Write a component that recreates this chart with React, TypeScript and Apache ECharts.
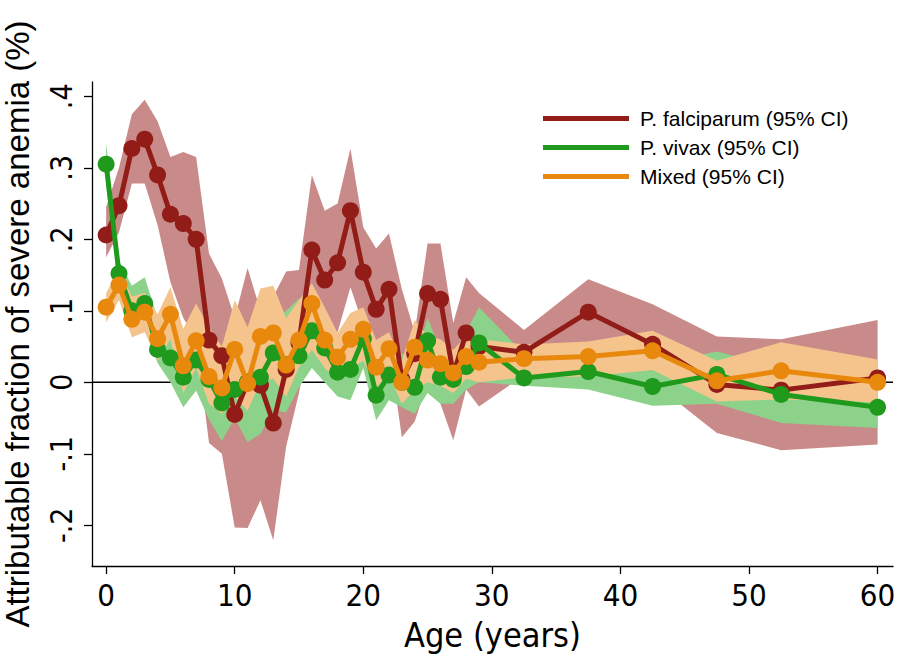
import React, { useEffect, useRef } from "react";
import * as echarts from "echarts";

const ages = [0, 1, 2, 3, 4, 5, 6, 7, 8, 9, 10, 11, 12, 13, 14, 15, 16, 17, 18, 19, 20, 21, 22, 23, 24, 25, 26, 27, 28, 29, 32.5, 37.5, 42.5, 47.5, 52.5, 60];

const falcValue = [0.206, 0.247, 0.327, 0.34, 0.29, 0.235, 0.222, 0.2, 0.059, 0.037, -0.045, 0.0, -0.004, -0.057, 0.018, 0.055, 0.185, 0.143, 0.167, 0.24, 0.154, 0.102, 0.13, 0.004, 0.04, 0.124, 0.116, 0.011, 0.069, 0.05, 0.042, 0.098, 0.053, -0.003, -0.011, 0.006];
const falcUpper = [0.245, 0.3, 0.375, 0.395, 0.365, 0.315, 0.322, 0.315, 0.18, 0.145, 0.09, 0.16, 0.1, 0.12, 0.155, 0.157, 0.29, 0.24, 0.25, 0.327, 0.217, 0.187, 0.208, 0.13, 0.07, 0.194, 0.194, 0.083, 0.147, 0.125, 0.073, 0.144, 0.109, 0.064, 0.06, 0.087];
const falcLower = [0.175, 0.21, 0.278, 0.278, 0.22, 0.14, 0.09, 0.06, -0.085, -0.1, -0.203, -0.204, -0.165, -0.221, -0.09, -0.015, 0.08, 0.06, 0.07, 0.133, 0.08, 0.02, 0.05, -0.077, -0.055, 0.0, -0.03, -0.081, -0.01, -0.034, 0.01, 0.05, 0.0, -0.071, -0.095, -0.087];

const vivaxValue = [0.305, 0.152, 0.1, 0.11, 0.046, 0.034, 0.007, 0.031, 0.004, -0.029, -0.01, 0.0, 0.007, 0.041, 0.025, 0.037, 0.072, 0.048, 0.014, 0.018, 0.061, -0.018, 0.01, 0.0, -0.007, 0.058, 0.007, 0.004, 0.022, 0.055, 0.006, 0.015, -0.006, 0.011, -0.017, -0.035];
const vivaxUpper = [0.335, 0.17, 0.135, 0.147, 0.09, 0.085, 0.06, 0.075, 0.06, 0.03, 0.11, 0.07, 0.06, 0.09, 0.1, 0.117, 0.12, 0.1, 0.06, 0.07, 0.1, 0.035, 0.05, 0.04, 0.03, 0.09, 0.045, 0.04, 0.07, 0.105, 0.04, 0.04, 0.025, 0.043, 0.02, 0.0];
const vivaxLower = [0.275, 0.135, 0.07, 0.075, 0.027, 0.0, -0.035, -0.012, -0.052, -0.082, -0.05, -0.084, -0.072, -0.04, -0.042, -0.007, 0.02, 0.0, -0.02, -0.025, 0.02, -0.053, -0.025, -0.035, -0.044, -0.015, -0.03, -0.03, -0.01, 0.0, -0.005, -0.01, -0.033, -0.03, -0.057, -0.064];

const mixedValue = [0.105, 0.136, 0.088, 0.098, 0.061, 0.095, 0.023, 0.058, 0.008, -0.008, 0.046, -0.002, 0.064, 0.069, 0.024, 0.059, 0.11, 0.059, 0.035, 0.06, 0.074, 0.021, 0.047, 0.0, 0.049, 0.031, 0.026, 0.013, 0.036, 0.028, 0.033, 0.036, 0.044, 0.002, 0.016, 0.0];
const mixedUpper = [0.125, 0.158, 0.12, 0.125, 0.095, 0.133, 0.075, 0.11, 0.077, 0.05, 0.115, 0.077, 0.131, 0.135, 0.09, 0.115, 0.138, 0.105, 0.069, 0.097, 0.105, 0.059, 0.07, 0.03, 0.087, 0.065, 0.06, 0.045, 0.065, 0.06, 0.053, 0.057, 0.072, 0.03, 0.056, 0.032];
const mixedLower = [0.084, 0.115, 0.063, 0.07, 0.03, 0.06, -0.015, 0.02, -0.03, -0.044, -0.02, -0.04, 0.0, 0.005, -0.02, 0.021, 0.045, 0.02, 0.003, 0.02, 0.03, -0.007, 0.01, -0.03, -0.011, 0.0, -0.005, -0.015, 0.005, 0.0, 0.007, 0.008, 0.017, -0.027, -0.024, -0.028];

const xTicks = [0, 10, 20, 30, 40, 50, 60];
const yTicks = [-0.2, -0.1, 0, 0.1, 0.2, 0.3, 0.4];
const seriesNames = ["P. falciparum (95% CI)", "P. vivax (95% CI)", "Mixed (95% CI)"];

const X_MIN = -1.1;
const X_MAX = 61.2;
const Y_MIN = -0.257;
const Y_MAX = 0.42;

const FONT = "'Liberation Sans', Arial, sans-serif";
const NARROW = "'Liberation Sans Narrow', 'DejaVu Sans Condensed', 'Liberation Sans', sans-serif";

function band(name: string, lower: number[], upper: number[], color: string, z: number) {
  return {
    type: "custom",
    name,
    silent: true,
    z,
    data: ages.map((a, i) => [a, lower[i], upper[i]]),
    encode: { x: 0, y: [1, 2] },
    renderItem: (params: any, api: any) => {
      if (params.dataIndex !== 0) return null;
      const pts: number[][] = [];
      for (let i = 0; i < ages.length; i++) pts.push(api.coord([ages[i], upper[i]]));
      for (let i = ages.length - 1; i >= 0; i--) pts.push(api.coord([ages[i], lower[i]]));
      return { type: "polygon", shape: { points: pts }, style: { fill: color, stroke: "none" } };
    },
  };
}

function line(name: string, values: number[], color: string, z: number) {
  return {
    type: "line",
    name,
    z,
    data: ages.map((a, i) => [a, values[i]]),
    symbol: "circle",
    symbolSize: 17,
    showSymbol: true,
    lineStyle: { width: 5, color },
    itemStyle: { color },
    emphasis: { disabled: true },
  };
}

function fmtY(v: number) {
  if (v === 0) return "0";
  const s = String(Math.abs(v)).replace(/^0/, "");
  return v < 0 ? "-" + s : s;
}

export default function App() {
  const ref = useRef<HTMLDivElement>(null);
  useEffect(() => {
    document.body.style.margin = "0";
    const chart = echarts.init(ref.current!, null, { renderer: "svg" });
    chart.setOption({
      animation: false,
      backgroundColor: "#ffffff",
      grid: { left: 92, right: 5, top: 82, bottom: 91, containLabel: false, outerBoundsMode: "none" },
      legend: {
        data: seriesNames,
        orient: "vertical",
        left: 538,
        top: 103,
        icon: "rect",
        itemWidth: 86,
        itemHeight: 5,
        itemGap: 8,
        textStyle: { fontSize: 21, color: "#000", fontFamily: FONT, padding: [0, 0, 0, 6] },
      },
      xAxis: {
        type: "value",
        min: X_MIN,
        max: X_MAX,
        name: "Age (years)",
        nameLocation: "middle",
        nameGap: 52,
        nameTextStyle: { fontSize: 34, color: "#000", fontFamily: NARROW },
        axisLine: { show: true, onZero: false, lineStyle: { color: "#000", width: 1.3 } },
        axisTick: { show: true, length: 8, customValues: xTicks, lineStyle: { color: "#000", width: 1.3 } },
        axisLabel: { customValues: xTicks, fontSize: 31, color: "#000", fontFamily: NARROW, margin: 13 },
        splitLine: { show: false },
      },
      yAxis: {
        type: "value",
        min: Y_MIN,
        max: Y_MAX,
        name: "Attributable fraction of severe anemia (%)",
        nameLocation: "middle",
        nameGap: 58,
        nameTextStyle: { fontSize: 33, color: "#000", fontFamily: FONT },
        axisLine: { show: true, onZero: false, lineStyle: { color: "#000", width: 1.3 } },
        axisTick: { show: true, length: 8, customValues: yTicks, lineStyle: { color: "#000", width: 1.3 } },
        axisLabel: { customValues: yTicks, rotate: 90, fontSize: 30, color: "#000", fontFamily: NARROW, margin: 16, formatter: fmtY },
        splitLine: { show: false },
      },
      series: [
        {
          type: "line",
          name: "zero",
          z: 0,
          silent: true,
          symbol: "none",
          data: [[X_MIN, 0], [X_MAX, 0]],
          lineStyle: { color: "#000", width: 1.3 },
        },
        band("falcCI", falcLower, falcUpper, "#c98b89", 1),
        band("vivaxCI", vivaxLower, vivaxUpper, "#8dd28a", 2),
        band("mixedCI", mixedLower, mixedUpper, "#f5c48c", 3),
        line(seriesNames[0], falcValue, "#921c17", 5),
        line(seriesNames[1], vivaxValue, "#1f9a1d", 6),
        line(seriesNames[2], mixedValue, "#e8890e", 7),
      ],
    });
    return () => chart.dispose();
  }, []);
  return <div ref={ref} style={{ width: 898, height: 657 }} />;
}
